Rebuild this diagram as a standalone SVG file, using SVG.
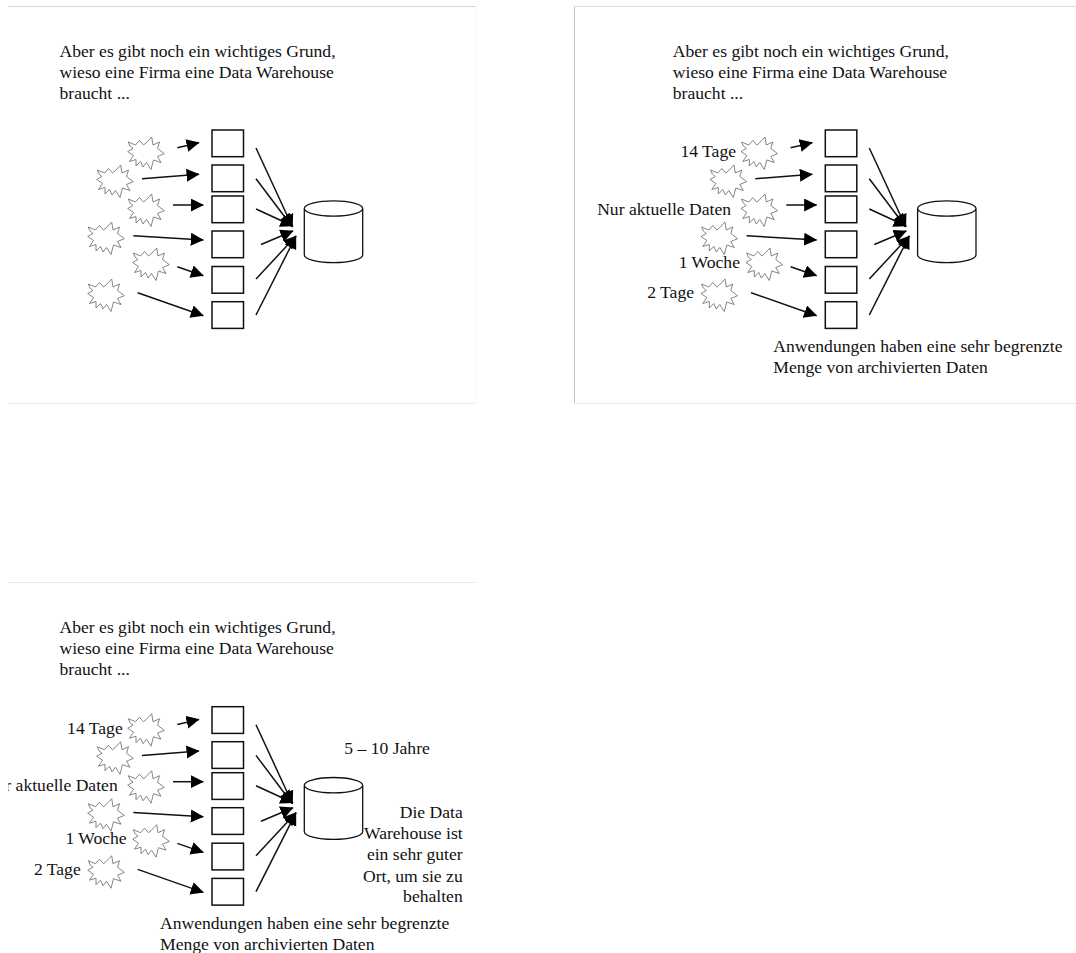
<svg xmlns="http://www.w3.org/2000/svg" width="1076" height="953" viewBox="0 0 1076 953">
<style>
text{font-family:"Liberation Serif","Times New Roman",serif;font-size:17.6px;fill:#111}
.e{text-anchor:end}
.box{fill:#fff;stroke:#111;stroke-width:1.5}
.star{fill:#fff;stroke:#666;stroke-width:.8}
.cyl{fill:#fff;stroke:#111;stroke-width:1.3}
.con line{stroke:#111;stroke-width:1.5;marker-end:url(#ah)}
.frame{stroke-width:1;fill:none}
</style>
<defs>
<marker id="ah" markerUnits="userSpaceOnUse" markerWidth="14" markerHeight="14" refX="12.5" refY="6.5" orient="auto"><path d="M0,0L13,6.5L0,13z" fill="#000"/></marker>
<polygon id="s" points="-17.7,-11 -10.5,-8 -6.5,-12.5 -2.5,-8 0,-10 5.7,-16 7,-8 13.5,-11 11.5,-4.5 18.3,.7 11.5,3.5 15,9.5 7.5,7 5,16.5 .5,9.5 -3,14 -5.5,8.5 -10,13 -10,6.5 -16.5,8.5 -12.5,2.5 -18.3,-1.5 -13,-4.5 -16,-7"/>
<clipPath id="edge"><rect x="8" y="0" width="200" height="400"/></clipPath>
</defs>
<rect width="1076" height="953" fill="#fff"/>
<g id="frames" class="frame">
<path d="M8,6.5H476" stroke="#d8d8d8"/><path d="M8,403.5H476" stroke="#eee"/><path d="M476.5,7V403" stroke="#f6f6f6"/>
<path d="M574.5,6V403" stroke="#c4c4c4"/><path d="M575,6.5H1076" stroke="#dcdcdc"/><path d="M575,403.5H1076" stroke="#e8e8e8"/>
<path d="M8,582.5H476" stroke="#ececec"/>
</g>

<g id="panel1">
<g id="p1-title"><text x="59.5" y="56.7">Aber es gibt noch ein wichtiges Grund,</text><text x="59.5" y="77.7">wieso eine Firma eine Data Warehouse</text><text x="59.5" y="98.7">braucht ...</text></g>
<g id="p1-s1"><use href="#s" class="star" x="146" y="153"/></g>
<g id="p1-s2"><use href="#s" class="star" x="115" y="181"/></g>
<g id="p1-s3"><use href="#s" class="star" x="146" y="210"/></g>
<g id="p1-s4"><use href="#s" class="star" x="106" y="238"/></g>
<g id="p1-s5"><use href="#s" class="star" x="151" y="264"/></g>
<g id="p1-s6"><use href="#s" class="star" x="106" y="295"/></g>
<g id="p1-b1"><rect class="box" x="212" y="130" width="31.5" height="26.7"/></g>
<g id="p1-b2"><rect class="box" x="212" y="165" width="31.5" height="26.7"/></g>
<g id="p1-b3"><rect class="box" x="212" y="196" width="31.5" height="26.7"/></g>
<g id="p1-b4"><rect class="box" x="212" y="231" width="31.5" height="26.7"/></g>
<g id="p1-b5"><rect class="box" x="212" y="266.5" width="31.5" height="26.7"/></g>
<g id="p1-b6"><rect class="box" x="212" y="301.7" width="31.5" height="26.7"/></g>
<g id="p1-db"><path class="cyl" d="M304.3,208.5V255A29.2,7.7 0 0 0 362.7,255V208.5A29.2,7.7 0 0 0 304.3,208.5A29.2,7.7 0 0 0 362.7,208.5"/></g>
<g id="p1-connectors" class="con">
<line x1="177.3" y1="147.7" x2="199" y2="142.7"/><line x1="142" y1="178.7" x2="199" y2="174.3"/><line x1="173" y1="205" x2="203.3" y2="205"/><line x1="133.3" y1="235.7" x2="203.3" y2="240"/><line x1="177.3" y1="266.7" x2="203.3" y2="275.7"/><line x1="137.7" y1="292.7" x2="203.3" y2="315.7"/>
<line x1="256" y1="148" x2="292.5" y2="227"/><line x1="256" y1="178.7" x2="292" y2="226.5"/><line x1="256" y1="209" x2="293" y2="226"/><line x1="261" y1="244.5" x2="293" y2="231"/><line x1="256" y1="279" x2="296" y2="236"/><line x1="256" y1="315" x2="296" y2="236"/>
</g>
</g>

<g id="panel2" transform="translate(613.3 0)">
<g id="p2-title"><text x="59.5" y="56.7">Aber es gibt noch ein wichtiges Grund,</text><text x="59.5" y="77.7">wieso eine Firma eine Data Warehouse</text><text x="59.5" y="98.7">braucht ...</text></g>
<g id="p2-s1"><use href="#s" class="star" x="146" y="153"/></g>
<g id="p2-s2"><use href="#s" class="star" x="115" y="181"/></g>
<g id="p2-s3"><use href="#s" class="star" x="146" y="210"/></g>
<g id="p2-s4"><use href="#s" class="star" x="106" y="238"/></g>
<g id="p2-s5"><use href="#s" class="star" x="151" y="264"/></g>
<g id="p2-s6"><use href="#s" class="star" x="106" y="295"/></g>
<g id="p2-b1"><rect class="box" x="212" y="130" width="31.5" height="26.7"/></g>
<g id="p2-b2"><rect class="box" x="212" y="165" width="31.5" height="26.7"/></g>
<g id="p2-b3"><rect class="box" x="212" y="196" width="31.5" height="26.7"/></g>
<g id="p2-b4"><rect class="box" x="212" y="231" width="31.5" height="26.7"/></g>
<g id="p2-b5"><rect class="box" x="212" y="266.5" width="31.5" height="26.7"/></g>
<g id="p2-b6"><rect class="box" x="212" y="301.7" width="31.5" height="26.7"/></g>
<g id="p2-db"><path class="cyl" d="M304.3,208.5V255A29.2,7.7 0 0 0 362.7,255V208.5A29.2,7.7 0 0 0 304.3,208.5A29.2,7.7 0 0 0 362.7,208.5"/></g>
<g id="p2-connectors" class="con">
<line x1="177.3" y1="147.7" x2="199" y2="142.7"/><line x1="142" y1="178.7" x2="199" y2="174.3"/><line x1="173" y1="205" x2="203.3" y2="205"/><line x1="133.3" y1="235.7" x2="203.3" y2="240"/><line x1="177.3" y1="266.7" x2="203.3" y2="275.7"/><line x1="137.7" y1="292.7" x2="203.3" y2="315.7"/>
<line x1="256" y1="148" x2="292.5" y2="227"/><line x1="256" y1="178.7" x2="292" y2="226.5"/><line x1="256" y1="209" x2="293" y2="226"/><line x1="261" y1="244.5" x2="293" y2="231"/><line x1="256" y1="279" x2="296" y2="236"/><line x1="256" y1="315" x2="296" y2="236"/>
</g>
<g id="p2-labels">
<text class="e" x="122.7" y="157.3">14 Tage</text><text class="e" x="117.7" y="215">Nur aktuelle Daten</text><text class="e" x="126.7" y="267.7">1 Woche</text><text class="e" x="80.7" y="298.3">2 Tage</text>
<text x="160" y="352.3">Anwendungen haben eine sehr begrenzte</text><text x="160" y="373.3">Menge von archivierten Daten</text>
</g>
</g>

<g id="panel3" transform="translate(0 576.7)">
<g id="p3-title"><text x="59.5" y="56.7">Aber es gibt noch ein wichtiges Grund,</text><text x="59.5" y="77.7">wieso eine Firma eine Data Warehouse</text><text x="59.5" y="98.7">braucht ...</text></g>
<g id="p3-s1"><use href="#s" class="star" x="146" y="153"/></g>
<g id="p3-s2"><use href="#s" class="star" x="115" y="181"/></g>
<g id="p3-s3"><use href="#s" class="star" x="146" y="210"/></g>
<g id="p3-s4"><use href="#s" class="star" x="106" y="238"/></g>
<g id="p3-s5"><use href="#s" class="star" x="151" y="264"/></g>
<g id="p3-s6"><use href="#s" class="star" x="106" y="295"/></g>
<g id="p3-b1"><rect class="box" x="212" y="130" width="31.5" height="26.7"/></g>
<g id="p3-b2"><rect class="box" x="212" y="165" width="31.5" height="26.7"/></g>
<g id="p3-b3"><rect class="box" x="212" y="196" width="31.5" height="26.7"/></g>
<g id="p3-b4"><rect class="box" x="212" y="231" width="31.5" height="26.7"/></g>
<g id="p3-b5"><rect class="box" x="212" y="266.5" width="31.5" height="26.7"/></g>
<g id="p3-b6"><rect class="box" x="212" y="301.7" width="31.5" height="26.7"/></g>
<g id="p3-db"><path class="cyl" d="M304.3,208.5V255A29.2,7.7 0 0 0 362.7,255V208.5A29.2,7.7 0 0 0 304.3,208.5A29.2,7.7 0 0 0 362.7,208.5"/></g>
<g id="p3-connectors" class="con">
<line x1="177.3" y1="147.7" x2="199" y2="142.7"/><line x1="142" y1="178.7" x2="199" y2="174.3"/><line x1="173" y1="205" x2="203.3" y2="205"/><line x1="133.3" y1="235.7" x2="203.3" y2="240"/><line x1="177.3" y1="266.7" x2="203.3" y2="275.7"/><line x1="137.7" y1="292.7" x2="203.3" y2="315.7"/>
<line x1="256" y1="148" x2="292.5" y2="227"/><line x1="256" y1="178.7" x2="292" y2="226.5"/><line x1="256" y1="209" x2="293" y2="226"/><line x1="261" y1="244.5" x2="293" y2="231"/><line x1="256" y1="279" x2="296" y2="236"/><line x1="256" y1="315" x2="296" y2="236"/>
</g>
<g id="p3-labels">
<text class="e" x="122.7" y="157.3">14 Tage</text><text class="e" x="117.7" y="214.5" clip-path="url(#edge)">r aktuelle Daten</text><text class="e" x="126.7" y="267.7">1 Woche</text><text class="e" x="80.7" y="298.3">2 Tage</text>
<text x="160" y="352.3">Anwendungen haben eine sehr begrenzte</text><text x="160" y="373.3">Menge von archivierten Daten</text>
<text x="344.3" y="177.6">5 – 10 Jahre</text>
<text class="e" x="462.7" y="241.6">Die Data</text><text class="e" x="462.7" y="262.4">Warehouse ist</text><text class="e" x="462.7" y="283.3">ein sehr guter</text><text class="e" x="462.7" y="305">Ort, um sie zu</text><text class="e" x="462.7" y="325.6">behalten</text>
</g>
</g>
</svg>
